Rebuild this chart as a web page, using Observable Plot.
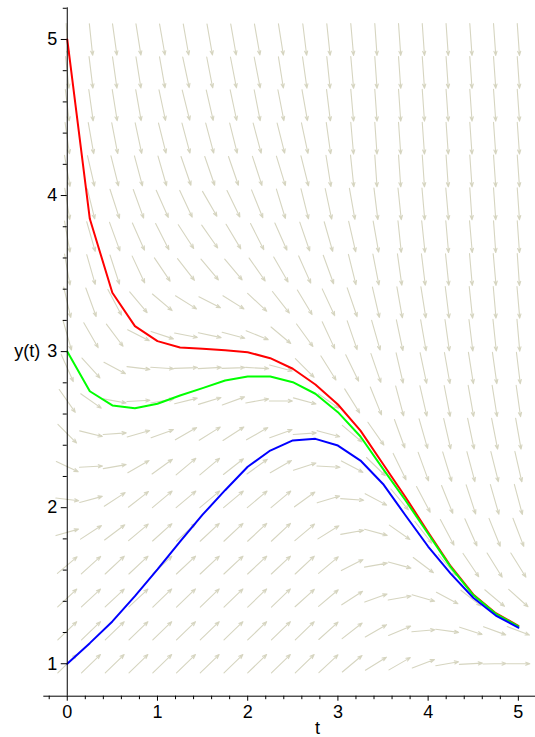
<!DOCTYPE html>
<html><head><meta charset="utf-8">
<script src="https://cdn.jsdelivr.net/npm/d3@7"></script>
<script src="https://cdn.jsdelivr.net/npm/@observablehq/plot@0.6"></script>
<style>body{margin:0;background:#fff}</style>
</head><body><div id="chart"></div>
<script>
// direction-field grid (t columns, y rows)
const tGrid = [0,0.263,0.526,0.789,1.053,1.316,1.579,1.842,2.105,2.368,2.632,2.895,3.158,3.421,3.684,3.947,4.211,4.474,4.737,5];
const yGrid = [1,1.211,1.421,1.632,1.842,2.053,2.263,2.474,2.684,2.895,3.105,3.316,3.526,3.737,3.947,4.158,4.368,4.579,4.789,5];
// arrow direction on screen, degrees above horizontal, row by row from y=1 upwards
const angles = [
 [44,44,44,44,44,44,44,44,44,44,44,43,40,32,30,21,10,3,1,0],
 [44,44,44,44,44,44,44,44,44,44,44,42,38,30,23,5,-8,-18,-20,-21],
 [43,43,43,43,44,44,44,44,44,44,42,40,33,20,10,-16,-28,-38,-40,-42],
 [40,42,43,43,43,43,43,43,43,43,43,40,27,10,-15,-37,-50,-56,-58,-58],
 [16,33,37,40,42,43,43,43,43,43,40,32,10,-15,-35,-52,-62,-66,-68,-69],
 [-7,15,33,38,40,40,40,40,40,40,36,17,-4,-28,-50,-62,-68,-72,-74,-75],
 [-25,3,10,30,36,40,40,38,36,30,18,-3,-28,-44,-64,-70,-73,-75,-76,-77],
 [-45,-14,4,16,20,30,32,33,30,20,4,-15,-40,-55,-70,-74,-77,-78,-79,-80],
 [-55,-35,-10,3,10,14,17,20,10,0,-15,-35,-58,-68,-75,-77,-79,-80,-81,-82],
 [-66,-48,-28,-7,-4,2,3,2,-3,-15,-45,-58,-64,-71,-77,-78,-80,-81,-82,-83],
 [-74,-60,-53,-27,-18,-11,-12,-15,-22,-40,-54,-65,-71,-74,-78,-80,-82,-83,-84,-85],
 [-77,-70,-62,-50,-40,-32,-27,-32,-43,-52,-59,-65,-71,-77,-80,-81,-83,-84,-85,-85],
 [-80,-74,-72,-65,-56,-52,-50,-50,-55,-60,-66,-70,-76,-79,-82,-83,-84,-85,-85,-86],
 [-80,-74,-70,-66,-63,-57,-55,-59,-63,-66,-71,-74,-77,-80,-84,-84,-85,-85,-86,-86],
 [-81,-76,-72,-70,-66,-65,-60,-64,-68,-73,-76,-78,-80,-83,-84,-85,-85,-86,-86,-86],
 [-80,-77,-76,-75,-74,-71,-71,-71,-72,-73,-76,-81,-84,-86,-86,-86,-86,-86,-86,-86],
 [-82,-80,-79,-78,-76,-75,-75,-76,-75,-76,-78,-82,-85,-86,-86,-86,-86,-86,-86,-86],
 [-83,-82,-81,-80,-78,-76,-77,-78,-79,-79,-80,-83,-85,-86,-86,-86,-86,-86,-86,-86],
 [-84,-83,-82,-81,-80,-78,-79,-79,-79,-81,-82,-84,-85,-86,-86,-86,-86,-86,-86,-86],
 [-86,-84,-82,-81,-80,-80,-80,-80,-80,-81,-83,-84,-85,-86,-86,-86,-86,-86,-86,-86]
];
// solution curves
const tSol = [0,0.25,0.5,0.75,1,1.25,1.5,1.75,2,2.25,2.5,2.75,3,3.25,3.5,3.75,4,4.25,4.5,4.75,5];
const yRed   = [5,3.851,3.377,3.163,3.067,3.026,3.018,3.009,2.996,2.958,2.89,2.789,2.661,2.494,2.28,2.067,1.843,1.625,1.444,1.324,1.243];
const yGreen = [3,2.746,2.655,2.637,2.666,2.719,2.766,2.815,2.840,2.840,2.804,2.730,2.612,2.456,2.249,2.046,1.833,1.619,1.44,1.32,1.239];
const yBlue  = [1,1.132,1.271,1.433,1.604,1.783,1.955,2.112,2.262,2.366,2.431,2.441,2.398,2.302,2.152,1.95,1.751,1.577,1.423,1.309,1.231];
// axes ticks
const xMajor = [0,1,2,3,4,5];
const xMinor = [-0.2,0.2,0.4,0.6,0.8,1.2,1.4,1.6,1.8,2.2,2.4,2.6,2.8,3.2,3.4,3.6,3.8,4.2,4.4,4.6,4.8];
const yMajor = [1,2,3,4,5];
const yMinor = [1.2,1.4,1.6,1.8,2.2,2.4,2.6,2.8,3.2,3.4,3.6,3.8,4.2,4.4,4.6,4.8,5.2];

const W = 535, H = 737;
const xDom = [-0.26, 5.19], xRange = [43.3, 535];
const yDom = [0.792, 5.203], yRange = [695.7, 7.3];
const kx = (xRange[1]-xRange[0])/(xDom[1]-xDom[0]);
const ky = (yRange[0]-yRange[1])/(yDom[1]-yDom[0]);
const cellW = kx*(tGrid[1]-tGrid[0]), cellH = ky*(yGrid[1]-yGrid[0]);

const field = [];
yGrid.forEach((yv, j) => tGrid.forEach((tv, i) => {
  const a = angles[j][i]*Math.PI/180, c = Math.cos(a), s = Math.sin(a);
  const L = 0.97/Math.hypot(c/cellW, s/cellH);
  const hx = L/2*c/kx, hy = L/2*s/ky;
  field.push({x1: tv-hx, y1: yv-hy, x2: tv+hx, y2: yv+hy});
}));
const curves = [];
[["red", yRed], ["#00ff00", yGreen], ["blue", yBlue]].forEach(([col, ys]) =>
  tSol.forEach((t, k) => curves.push({t, y: ys[k], c: col})));

const font = "'Liberation Sans', Arial, sans-serif";
const chart = Plot.plot({
  width: W, height: H, marginLeft: 0, marginRight: 0, marginTop: 0, marginBottom: 0,
  x: {domain: xDom, range: xRange, axis: null},
  y: {domain: yDom, range: yRange, axis: null},
  style: {fontFamily: font, background: "white", color: "black"},
  marks: [
    Plot.arrow(field, {x1: "x1", y1: "y1", x2: "x2", y2: "y2", stroke: "#d6d5c0", strokeWidth: 1.1, headLength: 6, headAngle: 42}),
    Plot.line(curves, {x: "t", y: "y", z: "c", stroke: d => d.c, strokeWidth: 2}),
    Plot.ruleX([0], {y1: yDom[0], y2: yDom[1], stroke: "black", strokeWidth: 1}),
    Plot.ruleY([yDom[0]], {x1: xDom[0], x2: xDom[1], stroke: "black", strokeWidth: 1}),
    Plot.ruleY(yMajor, {y: d => d, x1: -6/kx, x2: 0, stroke: "black"}),
    Plot.ruleY(yMinor, {y: d => d, x1: -4/kx, x2: 0, stroke: "black"}),
    Plot.ruleX(xMajor, {x: d => d, y1: yDom[0], y2: yDom[0]-5/ky, stroke: "black"}),
    Plot.ruleX(xMinor, {x: d => d, y1: yDom[0], y2: yDom[0]-3.5/ky, stroke: "black"}),
    Plot.text(yMajor, {x: 0, y: d => d, text: d => String(d), textAnchor: "end", dx: -10, fontSize: 18, fill: "black"}),
    Plot.text(xMajor, {x: d => d, y: yDom[0], text: d => String(d), dy: 16, fontSize: 18, fill: "black"}),
    Plot.text(["y(t)"], {x: 0, y: 3, text: d => d, textAnchor: "end", dx: -27, fontSize: 18, fill: "black"}),
    Plot.text(["t"], {x: 2.775, y: yDom[0], text: d => d, dy: 32, fontSize: 18, fill: "black"})
  ]
});
document.getElementById("chart").appendChild(chart);
</script>
</body></html>
